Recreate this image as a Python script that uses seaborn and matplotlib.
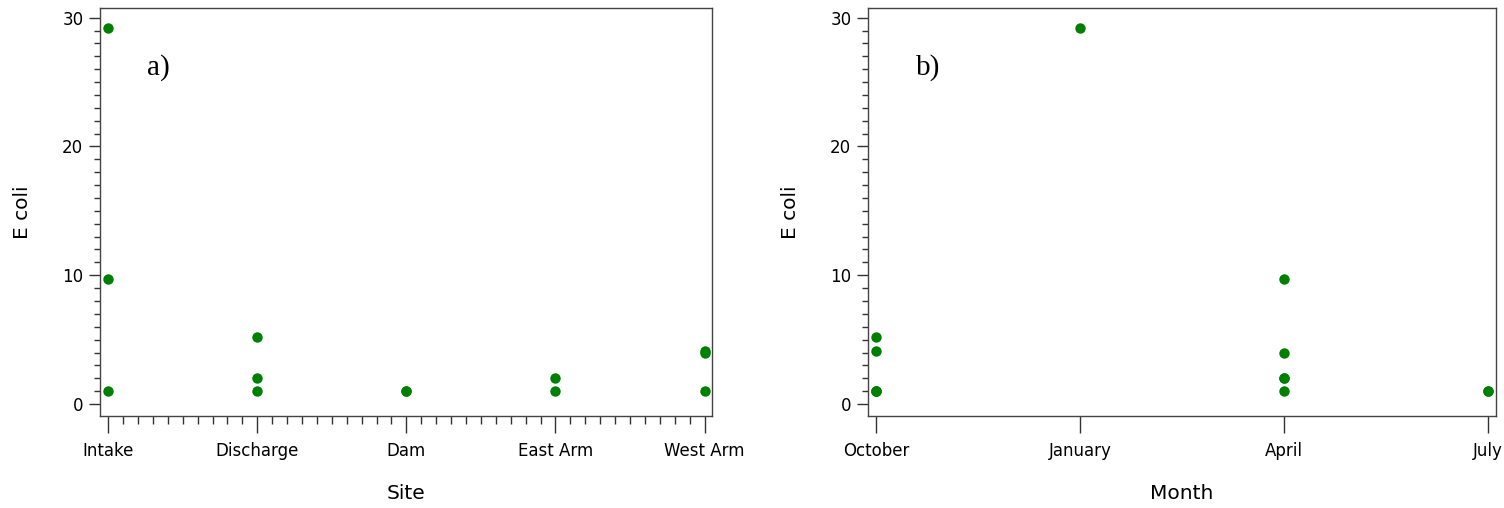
import matplotlib
matplotlib.use('Agg')
import pandas as pd
import matplotlib.pyplot as plt
import seaborn as sns
from matplotlib.ticker import MultipleLocator

# sample records
sites = ['Intake', 'Discharge', 'Dam', 'East Arm', 'West Arm']
months = ['October', 'January', 'April', 'July']

sample_site = ['Intake', 'Intake', 'Intake',
               'Discharge', 'Discharge', 'Discharge',
               'Dam', 'Dam',
               'East Arm', 'East Arm',
               'West Arm', 'West Arm', 'West Arm']
sample_month = ['October', 'January', 'April',
                'October', 'April', 'July',
                'October', 'April',
                'October', 'April',
                'October', 'April', 'July']
ecoli = [1.0, 29.2, 9.7,
         5.2, 2.0, 1.0,
         1.0, 1.0,
         1.0, 2.0,
         4.1, 4.0, 1.0]

df = pd.DataFrame({'Site': sample_site, 'Month': sample_month, 'E coli': ecoli})

sns.set_style('ticks')
plt.rcParams['font.family'] = ['DejaVu Sans']
plt.rcParams['text.color'] = 'black'
plt.rcParams['axes.labelcolor'] = 'black'

fig = plt.figure(figsize=(15.04, 5.08), dpi=100)
ax1 = fig.add_axes([100 / 1504, 92 / 508, 612 / 1504, 408 / 508])
ax2 = fig.add_axes([868 / 1504, 92 / 508, 628 / 1504, 408 / 508])

panels = [(ax1, 'Site', sites, 'a)', (-0.055, 4.05), True),
          (ax2, 'Month', months, 'b)', (-0.04, 3.04), False)]

for ax, col, order, tag, xlim, xminor in panels:
    sns.stripplot(data=df, x=col, y='E coli', order=order, jitter=False,
                  color='#008000', size=7.5, linewidth=0, ax=ax)
    ax.set_xlim(*xlim)
    ax.set_ylim(-0.93, 30.75)
    ax.yaxis.set_major_locator(MultipleLocator(10))
    ax.yaxis.set_minor_locator(MultipleLocator(1))
    if xminor:
        ax.xaxis.set_minor_locator(MultipleLocator(0.1))
    ax.tick_params(axis='x', which='major', length=12, width=1, color='#333333',
                   labelcolor='black', labelsize=12, pad=7)
    ax.tick_params(axis='x', which='minor', length=6, width=1, color='#333333')
    ax.tick_params(axis='y', which='major', length=8, width=1, color='#333333',
                   labelcolor='black', labelsize=12, pad=4)
    ax.tick_params(axis='y', which='minor', length=4, width=1, color='#333333')
    for sp in ax.spines.values():
        sp.set_visible(True)
        sp.set_color('#444444')
        sp.set_linewidth(1)
    ax.set_xlabel(col, fontsize=14.5, labelpad=17)
    ax.set_ylabel('E coli', fontsize=14.5, labelpad=22)
    ax.text(0.076, 0.855, tag, transform=ax.transAxes, fontsize=21,
            family=['Liberation Serif', 'DejaVu Serif'], va='center', ha='left')

fig.savefig('out.png', dpi=100)
